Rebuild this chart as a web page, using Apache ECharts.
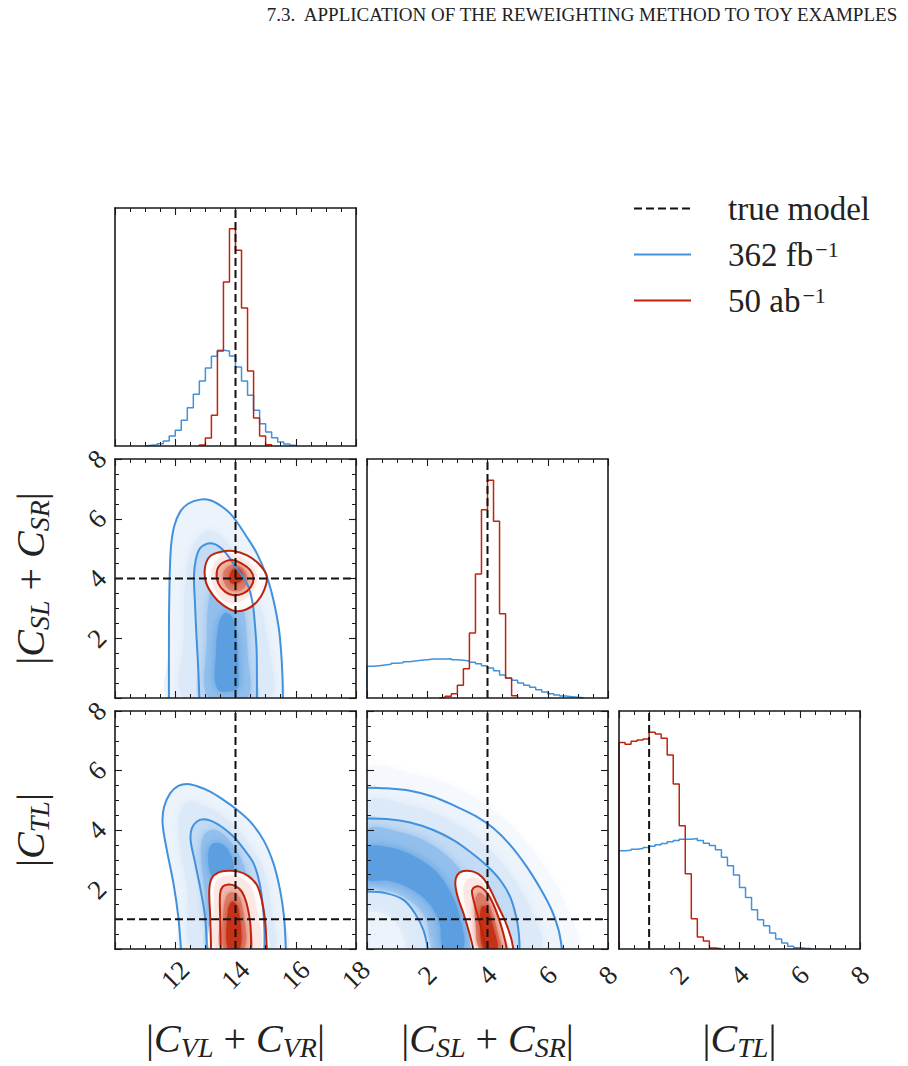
<!DOCTYPE html>
<html>
<head>
<meta charset="utf-8">
<script src="https://cdn.jsdelivr.net/npm/echarts@6/dist/echarts.min.js"></script>
<style>
  html, body { margin: 0; padding: 0; background: #fff; }
  #main { width: 908px; height: 1066px; }
</style>
</head>
<body>
<div id="main"></div>
<script>
// ---- data ----
// true model
var cvlTrue = 14, cslTrue = 4, ctlTrue = 1;
var binWidth = 0.2;

// 1D histograms (40 bins of 0.2), heights in arbitrary units
var cvlLo = 10;
var cvlBlue = [0,0,0,0,0,2,4,7,15,30,47,77,115,155,195,234,269,287,285,270,237,195,152,107,67,42,25,12,6,2,0,0,0,0,0,0,0,0,0,0];
var cvlRed  = [0,0,0,0,0,0,0,0,0,0,0,0,0,0,3,24,92,285,492,652,587,414,225,84,30,4,0,0,0,0,0,0,0,0,0,0,0,0,0,0];
var cslLo = 0;
var cslBlue = [95,97,99,101,104,106,109,111,113,115,117,117,117,118,115,113,111,107,103,97,90,82,69,59,53,45,38,32,25,18,13,9,6,4,2,1,0,0,0,0];
var cslRed  = [0,0,0,0,0,0,0,0,0,0,0,0,2,5,13,38,88,195,372,565,653,530,253,60,7,0,0,0,0,0,0,0,0,0,0,0,0,0,0,0];
var ctlLo = 0;
var ctlBlue = [295,297,300,302,305,309,313,317,322,326,330,330,332,326,318,311,298,276,250,222,185,155,118,88,70,48,30,18,8,4,2,1,0,0,0,0,0,0,0,0];
var ctlRed  = [620,615,624,628,631,651,646,633,583,496,370,226,91,36,24,3,1,0,0,0,0,0,0,0,0,0,0,0,0,0,0,0,0,0,0,0,0,0,0,0];
var histMax = [714, 717, 715];

// ticks
var cvlRange = [10, 18], coefRange = [0, 8], tickStep = 2;

// 2D panel |CVL+CVR| vs |CSL+CSR|
var b1Outer = [[11.79,0],[11.79,1.61],[11.80,3.28],[11.85,4.95],[11.96,5.73],[12.16,6.23],[12.44,6.51],[12.82,6.64],[13.16,6.62],[13.49,6.45],[13.82,6.18],[14.04,5.90],[14.37,5.40],[14.71,4.84],[15.04,4.06],[15.26,3.28],[15.43,2.39],[15.51,1.61],[15.56,0.71],[15.57,0]];
var b1Inner = [[12.80,0],[12.76,1.05],[12.70,2.16],[12.65,3.28],[12.62,4.06],[12.68,4.62],[12.82,5.01],[13.02,5.15],[13.24,5.17],[13.47,5.06],[13.69,4.84],[13.93,4.50],[14.21,4.11],[14.43,3.72],[14.57,3.17],[14.65,2.39],[14.70,1.61],[14.71,0.71],[14.71,0]];
var b1Mid   = [[12.3,0],[12.28,2.0],[12.35,4.0],[12.65,5.2],[13.1,5.6],[13.6,5.35],[14.2,4.5],[14.75,3.3],[15.05,2.0],[15.12,0]];
var b1Core  = [[13.1,0],[13.05,2.0],[13.1,3.2],[13.3,3.8],[13.7,4.0],[14.05,3.6],[14.3,2.8],[14.4,1.5],[14.4,0]];
var b1Peak  = [[13.4,0.3],[13.35,1.5],[13.45,2.5],[13.65,2.85],[13.9,2.7],[14.05,2.0],[14.1,0.8],[14.05,0.3]];
var r1Outer = [[12.99,4.39],[13.16,4.75],[13.49,4.89],[13.93,4.92],[14.37,4.78],[14.76,4.50],[15.04,4.08],[14.95,3.61],[14.71,3.22],[14.37,2.97],[13.99,2.91],[13.60,3.10],[13.27,3.42],[13.02,3.87]];
var r1Inner = [[13.38,4.23],[13.54,4.50],[13.88,4.62],[14.21,4.50],[14.49,4.28],[14.60,4.00],[14.51,3.72],[14.26,3.50],[13.93,3.44],[13.65,3.56],[13.43,3.84]];
var r1Mid   = [[13.2,4.1],[13.45,4.68],[13.9,4.8],[14.35,4.62],[14.7,4.15],[14.6,3.6],[14.2,3.25],[13.75,3.2],[13.4,3.5]];
var r1Core  = [[13.6,4.2],[13.85,4.45],[14.2,4.38],[14.4,4.0],[14.25,3.65],[13.9,3.58],[13.65,3.8]];
var r1Peak  = [[13.8,4.05],[13.92,4.32],[14.15,4.3],[14.25,4.0],[14.05,3.85],[13.85,3.85]];

// 2D panel |CVL+CVR| vs |CTL|
var b3Outer = [[12.19,0],[12.10,1.09],[11.94,2.21],[11.72,3.33],[11.58,4.22],[11.63,4.78],[11.83,5.23],[12.10,5.48],[12.40,5.55],[12.71,5.48],[13.16,5.29],[13.60,5.01],[14.04,4.69],[14.49,4.28],[14.93,3.66],[15.26,2.88],[15.48,1.98],[15.61,1.09],[15.67,0]];
var b3Inner = [[13.05,0],[12.99,1.09],[12.82,2.10],[12.64,2.99],[12.51,3.66],[12.55,4.06],[12.71,4.28],[12.93,4.36],[13.21,4.30],[13.54,4.11],[13.93,3.78],[14.26,3.38],[14.60,2.88],[14.80,2.21],[14.91,1.42],[14.96,0.64],[14.96,0]];
var b3Mid   = [[12.6,0],[12.4,2.0],[12.15,3.5],[12.15,4.55],[12.45,4.95],[13.0,4.8],[13.8,4.3],[14.45,3.5],[14.95,2.6],[15.2,1.2],[15.25,0]];
var b3Core  = [[13.2,0.5],[12.95,2.2],[12.85,3.3],[13.0,3.9],[13.35,4.0],[13.8,3.65],[14.2,3.0],[14.4,2.2],[14.3,1.0],[13.9,0.3]];
var b3Peak  = [[13.15,2.6],[13.1,3.25],[13.25,3.55],[13.6,3.5],[13.85,3.15],[13.95,2.6],[13.75,2.25],[13.4,2.25]];
var r3Outer = [[13.19,0],[13.16,1.09],[13.13,1.98],[13.21,2.38],[13.43,2.57],[13.77,2.63],[14.10,2.60],[14.43,2.45],[14.71,2.15],[14.87,1.65],[14.98,0.97],[15.04,0]];
var r3Inner = [[13.51,0],[13.49,1.09],[13.49,1.87],[13.58,2.10],[13.77,2.17],[13.99,2.12],[14.21,1.93],[14.37,1.53],[14.49,0.86],[14.52,0]];
var r3Mid   = [[13.35,0],[13.3,1.5],[13.35,2.25],[13.7,2.45],[14.1,2.42],[14.5,2.1],[14.7,1.3],[14.8,0]];
var r3Core  = [[13.62,0],[13.6,1.3],[13.75,1.85],[14.05,1.85],[14.25,1.3],[14.3,0]];
var r3Peak  = [[13.75,0],[13.75,1.3],[13.9,1.6],[14.1,1.35],[14.15,0]];

// 2D panel |CSL+CSR| vs |CTL|
var b4Halo  = [[0,6.0],[1.5,5.9],[3.0,5.4],[4.4,4.5],[5.6,3.2],[6.5,1.7],[6.9,0],[0,0]];
var b4Outer = [[0,5.42],[0.65,5.40],[1.43,5.32],[2.20,5.12],[2.98,4.78],[3.64,4.45],[4.20,4.06],[4.75,3.50],[5.30,2.77],[5.75,2.04],[6.13,1.31],[6.36,0.64],[6.47,0]];
var b4Mid   = [[0,4.9],[1.5,4.8],[2.8,4.3],[3.8,3.6],[4.7,2.6],[5.4,1.4],[5.7,0],[0,0]];
var b4Inner = [[0,4.39],[0.65,4.37],[1.43,4.25],[2.20,4.00],[2.87,3.66],[3.42,3.27],[3.98,2.80],[4.42,2.32],[4.75,1.76],[4.95,1.09],[5.04,0.53],[5.06,0]];
var b4Core  = [[0,1.95],[0,4.0],[1.0,3.95],[2.0,3.6],[2.8,3.0],[3.4,2.2],[3.8,1.2],[4.0,0],[2.2,0],[2.0,0.9],[1.7,1.4],[1.0,1.85],[0.5,1.95]];
var b4Peak  = [[0,2.35],[0,3.4],[0.8,3.4],[1.6,3.1],[2.3,2.6],[2.75,1.95],[3.05,1.2],[3.2,0],[2.55,0],[2.4,0.9],[2.05,1.55],[1.4,2.05],[0.7,2.3]];
var b4Hole  = [[0,1.93],[0.65,1.87],[1.21,1.65],[1.59,1.20],[1.87,0.64],[2.02,0]];
var b4HoleIn = [[0,1.2],[0.7,1.1],[1.1,0.6],[1.2,0],[0,0]];
var r4Outer = [[3.53,0],[3.40,0.53],[3.20,1.20],[3.01,1.76],[2.93,2.21],[3.00,2.49],[3.20,2.62],[3.53,2.60],[3.81,2.43],[4.06,2.07],[4.31,1.53],[4.58,0.95],[4.77,0.41],[4.86,0]];
var r4Inner = [[3.95,0],[3.81,0.64],[3.64,1.25],[3.51,1.76],[3.49,1.98],[3.62,2.10],[3.81,2.06],[4.03,1.82],[4.25,1.37],[4.44,0.82],[4.58,0.30],[4.64,0]];
var r4Mid   = [[3.7,0],[3.35,1.1],[3.2,2.0],[3.35,2.35],[3.7,2.35],[4.0,1.95],[4.3,1.2],[4.55,0.4],[4.7,0]];
var r4Core  = [[3.75,0],[3.6,0.9],[3.58,1.6],[3.72,1.9],[3.95,1.72],[4.2,1.1],[4.38,0.4],[4.45,0]];
var r4Peak  = [[3.88,0],[3.75,0.8],[3.8,1.4],[3.97,1.4],[4.2,0.7],[4.32,0]];

// ---- style ----
var SERIF = "'Liberation Serif', 'DejaVu Serif', serif";
var BLUE = '#4191dc', RED = '#c0230c', INK = '#1a1a1a';
var BF = ['#f5f9fd', '#ecf3fb', '#dce9f8', '#c3dbf4', '#93bfec', '#5c9fe1'];
var RF = ['#ffffff', '#fbe8e4', '#f1b9ad', '#dc7a66', '#c53017'];

var grids = [
  {left: 115, top: 208, width: 241, height: 238},
  {left: 115, top: 459, width: 241, height: 239},
  {left: 367, top: 459, width: 241, height: 239},
  {left: 115, top: 711, width: 241, height: 238},
  {left: 367, top: 711, width: 241, height: 238},
  {left: 619, top: 711, width: 241, height: 238}
];

var nameRich = {
  b: {fontFamily: SERIF, fontSize: 40, lineHeight: 46, color: '#222'},
  i: {fontFamily: SERIF, fontStyle: 'italic', fontSize: 40, lineHeight: 46, color: '#222'},
  s: {fontFamily: SERIF, fontStyle: 'italic', fontSize: 28, lineHeight: 22, verticalAlign: 'bottom', color: '#222'}
};
var nameCV = '{b||}{i|C}{s|VL}{b| + }{i|C}{s|VR}{b||}';
var nameCS = '{b||}{i|C}{s|SL}{b| + }{i|C}{s|SR}{b||}';
var nameCT = '{b||}{i|C}{s|TL}{b||}';

function axis(gi, pos, range, opts) {
  opts = opts || {};
  var isX = pos === 'bottom' || pos === 'top';
  var a = {
    type: 'value', gridIndex: gi, position: pos, z: 10,
    min: range[0], max: range[1],
    axisLine: {onZero: false, lineStyle: {color: INK, width: 1.6}},
    axisTick: {show: !opts.noTicks, inside: true, length: 7, lineStyle: {color: INK, width: 1.1}},
    minorTick: {show: !opts.noTicks, splitNumber: 4, length: 4, lineStyle: {color: INK, width: 1}},
    splitLine: {show: false},
    axisLabel: {
      show: !!opts.labels, rotate: 45, showMinLabel: false,
      align: 'center', verticalAlign: 'middle', margin: isX ? 26 : 18,
      fontFamily: 'Liberation Serif', fontSize: 27, color: '#222'
    }
  };
  if (!opts.noTicks) a.interval = tickStep;
  if (opts.name) {
    a.name = opts.name;
    a.nameLocation = 'middle';
    a.nameGap = isX ? 66 : 62;
    a.nameRotate = isX ? 0 : 90;
    a.nameTextStyle = {rich: nameRich};
  }
  return a;
}

var xAxes = [], yAxes = [];
// panel 0: hist CVL
xAxes.push(axis(0, 'bottom', cvlRange), axis(0, 'top', cvlRange));
yAxes.push(axis(0, 'left', [0, histMax[0]], {noTicks: true}), axis(0, 'right', [0, histMax[0]], {noTicks: true}));
// panel 1: CVL vs CSL
xAxes.push(axis(1, 'bottom', cvlRange), axis(1, 'top', cvlRange));
yAxes.push(axis(1, 'left', coefRange, {labels: true, name: nameCS}), axis(1, 'right', coefRange));
// panel 2: hist CSL
xAxes.push(axis(2, 'bottom', coefRange), axis(2, 'top', coefRange));
yAxes.push(axis(2, 'left', [0, histMax[1]], {noTicks: true}), axis(2, 'right', [0, histMax[1]], {noTicks: true}));
// panel 3: CVL vs CTL
xAxes.push(axis(3, 'bottom', cvlRange, {labels: true, name: nameCV}), axis(3, 'top', cvlRange));
yAxes.push(axis(3, 'left', coefRange, {labels: true, name: nameCT}), axis(3, 'right', coefRange));
// panel 4: CSL vs CTL
xAxes.push(axis(4, 'bottom', coefRange, {labels: true, name: nameCS}), axis(4, 'top', coefRange));
yAxes.push(axis(4, 'left', coefRange), axis(4, 'right', coefRange));
// panel 5: hist CTL
xAxes.push(axis(5, 'bottom', coefRange, {labels: true, name: nameCT}), axis(5, 'top', coefRange));
yAxes.push(axis(5, 'left', [0, histMax[2]], {noTicks: true}), axis(5, 'right', [0, histMax[2]], {noTicks: true}));

var series = [];

function addFill(g, pts, color, blur) {
  var k = series.length;
  series.push({
    type: 'custom', xAxisIndex: 2 * g, yAxisIndex: 2 * g, data: pts, clip: true, silent: true, z: 2,
    renderItem: function (params, api) {
      if (params.dataIndex !== 0) return null;
      var style = {fill: color, stroke: null};
      if (blur) {
        style.shadowBlur = blur;
        style.shadowColor = color;
      }
      return {
        type: 'polygon', z2: k,
        shape: {points: pts.map(function (p) { return api.coord(p); }), smooth: 0.35},
        style: style
      };
    }
  });
}

function addContour(g, pts, color, closed) {
  series.push({
    type: 'custom', xAxisIndex: 2 * g, yAxisIndex: 2 * g, data: pts, clip: true, silent: true, z: 3,
    renderItem: function (params, api) {
      if (params.dataIndex !== 0) return null;
      return {
        type: closed ? 'polygon' : 'polyline',
        shape: {points: pts.map(function (p) { return api.coord(p); }), smooth: 0.35},
        style: {fill: 'none', stroke: color, lineWidth: 2}
      };
    }
  });
}

function stepData(lo, vals) {
  var first = 0, last = vals.length - 1;
  while (first < last && vals[first] === 0) first++;
  while (last > first && vals[last] === 0) last--;
  var d = [[lo + first * binWidth, 0]];
  for (var i = first; i <= last; i++) d.push([lo + i * binWidth, vals[i]]);
  d.push([lo + (last + 1) * binWidth, 0]);
  return d;
}

function addHist(g, name, lo, vals, color) {
  series.push({
    type: 'line', name: name, xAxisIndex: 2 * g, yAxisIndex: 2 * g,
    data: stepData(lo, vals), step: 'end', symbol: 'none', silent: true, clip: true, z: 3,
    lineStyle: {color: color, width: 1.5}, itemStyle: {color: color}
  });
}

function addTrue(g, pts) {
  series.push({
    type: 'line', name: 'true model', xAxisIndex: 2 * g, yAxisIndex: 2 * g,
    data: pts, symbol: 'none', silent: true, clip: true, z: 4,
    lineStyle: {color: '#111', width: 2, type: [8, 4]}, itemStyle: {color: '#111'}
  });
}

// histograms
addHist(0, '362 fb', cvlLo, cvlBlue, BLUE);
addHist(0, '50 ab', cvlLo, cvlRed, RED);
addTrue(0, [[cvlTrue, 0], [cvlTrue, histMax[0]]]);

addHist(2, '362 fb', cslLo, cslBlue, BLUE);
addHist(2, '50 ab', cslLo, cslRed, RED);
addTrue(2, [[cslTrue, 0], [cslTrue, histMax[1]]]);

addHist(5, '362 fb', ctlLo, ctlBlue, BLUE);
addHist(5, '50 ab', ctlLo, ctlRed, RED);
addTrue(5, [[ctlTrue, 0], [ctlTrue, histMax[2]]]);

// panel 1
addFill(1, b1Outer, BF[1]);
addFill(1, b1Mid, BF[2], 10);
addFill(1, b1Inner, BF[3]);
addFill(1, b1Core, BF[4], 10);
addFill(1, b1Peak, BF[5], 10);
addContour(1, b1Outer, BLUE, false);
addContour(1, b1Inner, BLUE, false);
addFill(1, r1Outer, RF[0]);
addFill(1, r1Mid, RF[1], 4);
addFill(1, r1Inner, RF[2]);
addFill(1, r1Core, RF[3], 5);
addFill(1, r1Peak, RF[4], 4);
addContour(1, r1Outer, RED, true);
addContour(1, r1Inner, RED, true);
addTrue(1, [[cvlTrue, coefRange[0]], [cvlTrue, coefRange[1]]]);
addTrue(1, [[cvlRange[0], cslTrue], [cvlRange[1], cslTrue]]);

// panel 3
addFill(3, b3Outer, BF[1]);
addFill(3, b3Mid, BF[2], 10);
addFill(3, b3Inner, BF[3]);
addFill(3, b3Core, BF[4], 10);
addFill(3, b3Peak, BF[5], 10);
addContour(3, b3Outer, BLUE, false);
addContour(3, b3Inner, BLUE, false);
addFill(3, r3Outer, RF[0]);
addFill(3, r3Mid, RF[1], 4);
addFill(3, r3Inner, RF[2]);
addFill(3, r3Core, RF[3], 5);
addFill(3, r3Peak, RF[4], 4);
addContour(3, r3Outer, RED, false);
addContour(3, r3Inner, RED, false);
addTrue(3, [[cvlTrue, coefRange[0]], [cvlTrue, coefRange[1]]]);
addTrue(3, [[cvlRange[0], ctlTrue], [cvlRange[1], ctlTrue]]);

// panel 4
var corner = [[0, 0]];
addFill(4, b4Halo, BF[0], 10);
addFill(4, b4Outer.concat(corner), BF[1]);
addFill(4, b4Mid, BF[2], 10);
addFill(4, b4Inner.concat(corner), BF[3]);
addFill(4, b4Core, BF[4], 10);
addFill(4, b4Peak, BF[5], 10);
addFill(4, b4Hole.concat(corner), BF[2], 6);
addFill(4, b4HoleIn, BF[1], 8);
addContour(4, b4Outer, BLUE, false);
addContour(4, b4Inner, BLUE, false);
addContour(4, b4Hole, BLUE, false);
addFill(4, r4Outer, RF[0]);
addFill(4, r4Mid, RF[1], 4);
addFill(4, r4Inner, RF[2]);
addFill(4, r4Core, RF[3], 5);
addFill(4, r4Peak, RF[4], 4);
addContour(4, r4Outer, RED, false);
addContour(4, r4Inner, RED, false);
addTrue(4, [[cslTrue, coefRange[0]], [cslTrue, coefRange[1]]]);
addTrue(4, [[coefRange[0], ctlTrue], [coefRange[1], ctlTrue]]);

var chart = echarts.init(document.getElementById('main'), null, {renderer: 'svg'});
chart.setOption({
  animation: false,
  backgroundColor: '#fff',
  title: {
    text: '7.3.  APPLICATION OF THE REWEIGHTING METHOD TO TOY EXAMPLES',
    right: 3, top: 0,
    textStyle: {fontFamily: SERIF, fontSize: 19, fontWeight: 'normal', color: '#222'}
  },
  legend: {
    data: ['true model', '362 fb', '50 ab'],
    orient: 'vertical', left: 633, top: 192, padding: 0,
    itemWidth: 57, itemHeight: 14, itemGap: 13, selectedMode: false,
    itemStyle: {opacity: 0},
    formatter: function (name) {
      return name === 'true model' ? '{t|true model}' : '{t|' + name + '}{s|\u22121}';
    },
    textStyle: {
      rich: {
        t: {fontFamily: SERIF, fontSize: 33, lineHeight: 32, color: '#222', padding: [0, 0, 0, 32]},
        s: {fontFamily: SERIF, fontSize: 22, lineHeight: 14, verticalAlign: 'top', color: '#222', padding: [0, 0, 0, 2]}
      }
    }
  },
  grid: grids,
  xAxis: xAxes,
  yAxis: yAxes,
  series: series
});
</script>
</body>
</html>
